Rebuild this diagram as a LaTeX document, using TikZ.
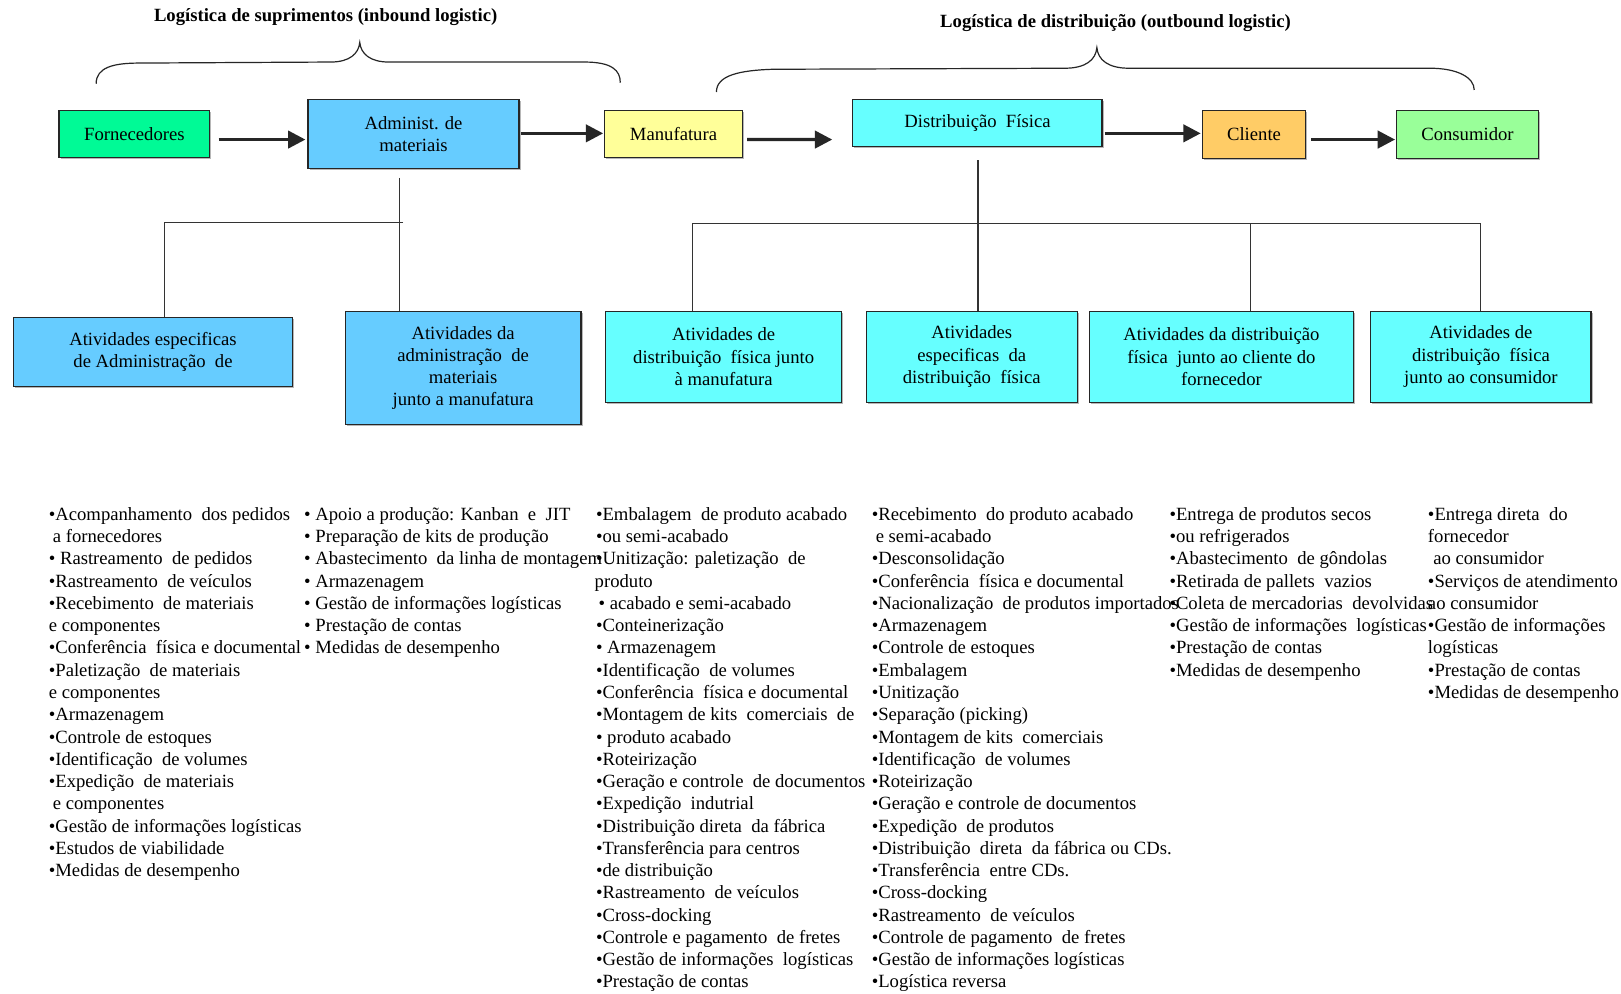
\documentclass[tikz,border=0pt]{standalone}
\usepackage{fontspec}
\setmainfont{Liberation Serif}
\usetikzlibrary{arrows.meta,calc,shadows}
\definecolor{cForn}{RGB}{0,250,150}
\definecolor{cAdm}{RGB}{102,204,255}
\definecolor{cMan}{RGB}{255,255,153}
\definecolor{cDist}{RGB}{102,255,255}
\definecolor{cCli}{RGB}{255,204,102}
\definecolor{cCons}{RGB}{153,255,153}
\def\u{0.7754pt}
\begin{document}
\begin{tikzpicture}[x=0.7754pt,y=-0.7754pt,
  every node/.style={font=\fontsize{14}{16.7}\selectfont, inner sep=0pt},
  box/.style={draw=black!85, line width=0.9pt, align=center,
    drop shadow={shadow xshift=1.2pt, shadow yshift=-1.2pt, fill=black!35, opacity=0.8}},
  arr/.style={draw=black!85, line width=2.4pt, -{Triangle[length=13pt,width=13pt]}},
  tree/.style={draw=black!80, line width=0.8pt},
  brace/.style={draw=black!85, line width=0.9pt},
  list/.style={anchor=north west, align=left},
  title/.style={font=\fontsize{14}{16.7}\selectfont\bfseries}
]
\useasboundingbox[fill=white] (0,0) rectangle (1568,961);

% titles
\node[title] (t1) at (315,17) {Logística de suprimentos (inbound logistic)};
\node[title] (t2) at (1079,22) {Logística de distribuição (outbound logistic)};

% braces
\draw[brace] (93,81) .. controls (93,65) and (110,61) .. (135,61) -- (320,60)
  .. controls (338,60) and (347,52) .. (348,41)
  .. controls (349,52) and (358,60) .. (376,60) -- (565,60)
  .. controls (592,60) and (600,68) .. (600,80);
\draw[brace] (693,89) .. controls (693,73) and (715,68) .. (748,67) -- (1030,66)
  .. controls (1050,66) and (1060,58) .. (1061,46)
  .. controls (1062,58) and (1072,66) .. (1092,66) -- (1383,66)
  .. controls (1410,66) and (1426,75) .. (1426,87);

% top boxes
\node[box, fill=cForn, minimum width=146*\u, minimum height=45*\u] (forn) at (130,129.5) {Fornecedores};
\node[box, fill=cAdm, minimum width=204*\u, minimum height=67*\u] (admin) at (400,129.5) {Administ. de\\materiais};
\node[box, fill=cMan, minimum width=133*\u, minimum height=45*\u] (manuf) at (651.5,129.5) {Manufatura};
\node[box, fill=cDist, minimum width=241*\u, minimum height=46*\u] (distrib) at (945.5,119) {Distribuição\ \ Física};
\node[box, fill=cCli, minimum width=100*\u, minimum height=46*\u] (cliente) at (1213,130) {Cliente};
\node[box, fill=cCons, minimum width=137*\u, minimum height=46*\u] (consum) at (1419.5,130) {Consumidor};

% arrows
\coordinate (mend) at (805,135);
\draw[arr] ($(forn.east)+(8,5.5)$) -- ($(admin.west)+(-2,5.5)$);
\draw[arr] ($(admin.east)+(1,-0.5)$) -- ($(manuf.west)+(-1,-0.5)$);
\draw[arr] ($(manuf.east)+(4,5.5)$) -- (mend);
\draw[arr] ($(distrib.east)+(2,10)$) -- ($(cliente.west)+(-1,-1)$);
\draw[arr] ($(cliente.east)+(5,5)$) -- ($(consum.west)+(-1,5)$);

% lower boxes
\node[box, fill=cAdm, minimum width=270*\u, minimum height=67*\u] (b1) at (148,340.5) {Atividades especificas\\de Administração\ \ de};
\node[box, fill=cAdm, minimum width=228*\u, minimum height=110*\u] (b2) at (448,356) {Atividades da\\administração\ \ de\\materiais\\junto a manufatura};
\node[box, fill=cDist, minimum width=228*\u, minimum height=88*\u] (b3) at (700,345) {Atividades de\\distribuição\ \ física junto\\à manufatura};
\node[box, fill=cDist, minimum width=204*\u, minimum height=88*\u] (b4) at (940,345) {Atividades\\especificas\ \ da\\distribuição\ \ física};
\node[box, fill=cDist, minimum width=255*\u, minimum height=88*\u] (b5) at (1181.5,345) {Atividades da distribuição\\física\ \ junto ao cliente do\\fornecedor};
\node[box, fill=cDist, minimum width=213*\u, minimum height=88*\u] (b6) at (1432.5,345) {Atividades de\\distribuição\ \ física\\junto ao consumidor};

% tree connectors
\coordinate (tl) at (386,172);
\coordinate (tlh) at (159,215);
\coordinate (tlh2) at (390,215);
\draw[tree] (tl) -- (tl |- b2.north);
\draw[tree] (tlh2) -- (tlh) -- (tlh |- b1.north);
\coordinate (tr) at (946,155);
\coordinate (trl) at (670,216);
\coordinate (trm) at (1210,216);
\coordinate (trr) at (1432,216);
\draw[tree] (tr) -- (tr |- b4.north);
\draw[tree] (trr) -- (trl) -- (trl |- b3.north);
\draw[tree] (trm) -- (trm |- b5.north);
\draw[tree] (trr) -- (trr |- b6.north);

% lists (first baseline at y=503; strut height = 15.1 units)
\node[list] (l1) at (47,488) {%
\strut•Acompanhamento\ \ dos pedidos\\
\hspace{3pt}a fornecedores\\
• Rastreamento\ \ de pedidos\\
•Rastreamento\ \ de veículos\\
•Recebimento\ \ de materiais\\
e componentes\\
•Conferência\ \ física e documental\\
•Paletização\ \ de materiais\\
e componentes\\
•Armazenagem\\
•Controle de estoques\\
•Identificação\ \ de volumes\\
•Expedição\ \ de materiais\\
\hspace{3pt}e componentes\\
•Gestão de informações logísticas\\
•Estudos de viabilidade\\
•Medidas de desempenho};

\node[list] (l2) at (294,488) {%
\strut• Apoio a produção: Kanban\ \ e\ \ JIT\\
• Preparação de kits de produção\\
• Abastecimento\ \ da linha de montagem\\
• Armazenagem\\
• Gestão de informações logísticas\\
• Prestação de contas\\
• Medidas de desempenho};

\node[list] (l3) at (575,488) {%
\strut\hspace{1pt}•Embalagem\ \ de produto acabado\\
\hspace{1pt}•ou semi-acabado\\
\hspace{1pt}•Unitização: paletização\ \ de\\
produto\\
\hspace{3pt}• acabado e semi-acabado\\
\hspace{1pt}•Conteinerização\\
\hspace{1pt}• Armazenagem\\
\hspace{1pt}•Identificação\ \ de volumes\\
\hspace{1pt}•Conferência\ \ física e documental\\
\hspace{1pt}•Montagem de kits\ \ comerciais\ \ de\\
\hspace{1pt}• produto acabado\\
\hspace{1pt}•Roteirização\\
\hspace{1pt}•Geração e controle\ \ de documentos\\
\hspace{1pt}•Expedição\ \ indutrial\\
\hspace{1pt}•Distribuição direta\ \ da fábrica\\
\hspace{1pt}•Transferência para centros\\
\hspace{1pt}•de distribuição\\
\hspace{1pt}•Rastreamento\ \ de veículos\\
\hspace{1pt}•Cross-docking\\
\hspace{1pt}•Controle e pagamento\ \ de fretes\\
\hspace{1pt}•Gestão de informações\ \ logísticas\\
\hspace{1pt}•Prestação de contas};

\node[list] (l4) at (843,488) {%
\strut•Recebimento\ \ do produto acabado\\
\hspace{3pt}e semi-acabado\\
•Desconsolidação\\
•Conferência\ \ física e documental\\
•Nacionalização\ \ de produtos importados\\
•Armazenagem\\
•Controle de estoques\\
•Embalagem\\
•Unitização\\
•Separação (picking)\\
•Montagem de kits\ \ comerciais\\
•Identificação\ \ de volumes\\
•Roteirização\\
•Geração e controle de documentos\\
•Expedição\ \ de produtos\\
•Distribuição\ \ direta\ \ da fábrica ou CDs.\\
•Transferência\ \ entre CDs.\\
•Cross-docking\\
•Rastreamento\ \ de veículos\\
•Controle de pagamento\ \ de fretes\\
•Gestão de informações logísticas\\
•Logística reversa};

\node[list] (l5) at (1131,488) {%
\strut•Entrega de produtos secos\\
•ou refrigerados\\
•Abastecimento\ \ de gôndolas\\
•Retirada de pallets\ \ vazios\\
•Coleta de mercadorias\ \ devolvidas\\
•Gestão de informações\ \ logísticas\\
•Prestação de contas\\
•Medidas de desempenho};

\node[list] (l6) at (1381,488) {%
\strut•Entrega direta\ \ do\\
fornecedor\\
\hspace{4pt}ao consumidor\\
•Serviços de atendimento\\
ao consumidor\\
•Gestão de informações\\
logísticas\\
•Prestação de contas\\
•Medidas de desempenho};
\end{tikzpicture}
\end{document}
